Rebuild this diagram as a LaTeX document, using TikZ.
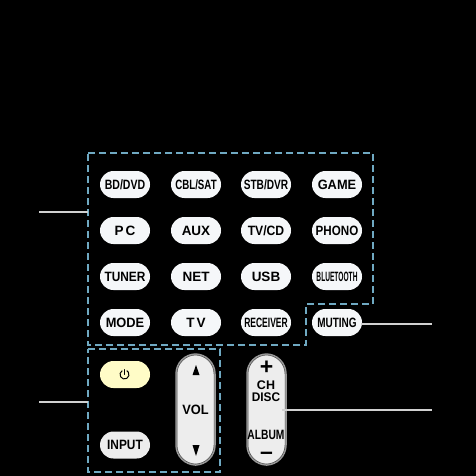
\documentclass[tikz,border=0pt]{standalone}
\usepackage{fontspec}
\usepackage{graphicx}
\setmainfont{Liberation Sans}
\newcommand{\sq}[2]{\scalebox{#1}[1]{#2}}
\definecolor{zonecol}{HTML}{6FA9C2}
\definecolor{keycol}{HTML}{F5F7F9}
\tikzset{
  btn/.style={draw=none,fill=#1,rounded corners=13.5pt,minimum width=50pt,minimum height=27pt,inner sep=0pt,text=black,text height=9.5pt,text depth=0pt,font=\fontsize{13.5pt}{14pt}\bfseries},
  btn/.default={keycol},
  tall/.style={draw=black!40,line width=1.5pt,fill=black!7,rounded corners=20pt,minimum width=39pt,minimum height=111pt,inner sep=0pt},
  inring/.style={draw=black!75,line width=0.5pt,rounded corners=19pt,minimum width=37pt,minimum height=109pt,inner sep=0pt},
  zone/.style={draw=zonecol,line width=1.7pt,dash pattern=on 7pt off 4pt},
  lead/.style={draw=black!18,line width=2pt},
  lbl/.style={inner sep=0pt,text=black,text height=9.5pt,text depth=0pt,font=\fontsize{13.5pt}{14pt}\bfseries},
  small/.style={inner sep=0pt,text=black,text height=8.6pt,text depth=0pt,font=\fontsize{12.5pt}{13pt}\bfseries},
  sign/.style={inner sep=0pt,text=black,text height=12pt,text depth=0pt,font=\fontsize{23pt}{23pt}\bfseries},
  tip/.style={fill=black,draw=none}
}
\begin{document}
\begin{tikzpicture}[x=1pt,y=-1pt]
\useasboundingbox[fill=black] (0,0) rectangle (476,476);
\draw[zone] (88,153) -- (373,153) -- (373,304) -- (306,304) -- (306,345) -- (88,345) -- cycle;
\draw[zone] (88,349) -- (220,349) -- (220,472) -- (88,472) -- cycle;
\node[btn] (bd) at (125,184.5) {\sq{0.78}{BD/DVD}};
\node[btn] (cbl) at (196,184.5) {\sq{0.72}{CBL/SAT}};
\node[btn] (stb) at (266,184.5) {\sq{0.75}{STB/DVR}};
\node[btn] (game) at (337,184.5) {\sq{0.95}{GAME}};
\node[btn] (pc) at (125,230.5) {P\,C};
\node[btn] (aux) at (196,230.5) {AUX};
\node[btn] (tv) at (266,230.5) {\sq{0.9}{TV/CD}};
\node[btn] (phono) at (337,230.5) {\sq{0.86}{PHONO}};
\node[btn] (tuner) at (125,276.5) {\sq{0.88}{TUNER}};
\node[btn] (net) at (196,276.5) {NET};
\node[btn] (usb) at (266,276.5) {USB};
\node[btn] (blue) at (337,276.5) {\sq{0.49}{BLUETOOTH}};
\node[btn] (mode) at (125,322.5) {\sq{0.95}{MODE}};
\node[btn] (tvb) at (196,322.5) {T\,V};
\node[btn] (rec) at (266,322.5) {\sq{0.63}{RECEIVER}};
\node[btn] (mut) at (337,322.5) {\sq{0.74}{MUTING}};
\node[btn=yellow!22!white] (pow) at (125,374.5) {};
\node[btn=black!7] (inp) at (125,445) {\sq{0.88}{INPUT}};
\draw[line width=1pt,line cap=round] (pow.center) ++(-0.5,-5) -- ++(0,5);
\draw[line width=1pt] (pow.center) ++(-2.75,-3.9) arc[start angle=-120,end angle=-420,radius=4.5];
\node[tall] (vol) at (195.5,409.5) {};
\node[inring] (volr) at (195.5,409.5) {};
\node[lbl] (vollbl) at (195.5,410) {\sq{0.95}{VOL}};
\path[tip] (196,365) -- (199.5,375) -- (192.5,375) -- cycle;
\path[tip] (196,456) -- (199.5,445) -- (192.5,445) -- cycle;
\node[tall] (ch) at (266.5,409.5) {};
\node[inring] (chr) at (266.5,409.5) {};
\node[sign] (plus) at (266.5,368.5) {+};
\node[small] (chl) at (266,385.5) {CH};
\node[small] (disc) at (266,397) {\sq{0.95}{DISC}};
\node[lbl] (alb) at (266,434.5) {\sq{0.76}{ALBUM}};
\node[sign,text height=3pt] (minus) at (266.5,450.5) {\raisebox{-7.5pt}{\textendash}};
\coordinate (z1) at (88,212);
\coordinate (e1) at (39,212);
\coordinate (z2) at (88,402);
\coordinate (e2) at (39,402);
\coordinate (e3) at (432,324);
\coordinate (e4) at (432,410);
\coordinate (s3) at (361,324);
\coordinate (s4) at (282,410);
\draw[lead] (e1) -- (z1);
\draw[lead] (e2) -- (z2);
\draw[lead] (s3) -- (e3);
\draw[lead,line width=1.3pt] (s4) -- (e4);
\end{tikzpicture}
\end{document}
